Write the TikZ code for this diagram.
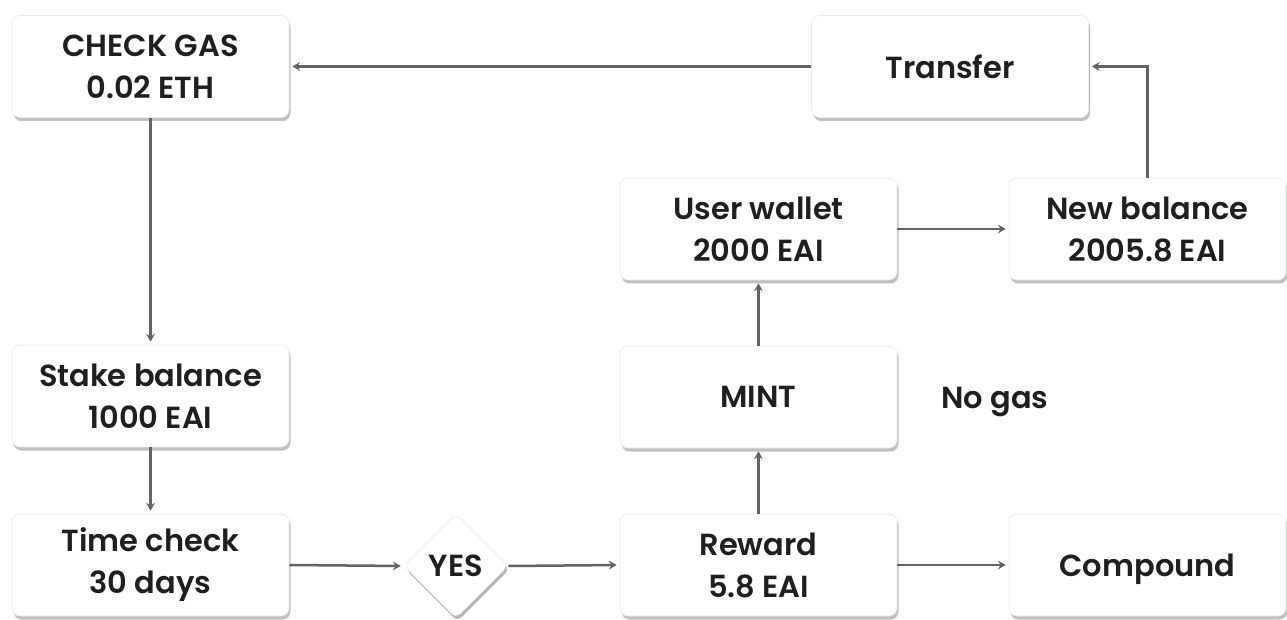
\documentclass[tikz,border=0pt]{standalone}
\usepackage{fontspec}
\setmainfont{Poppins SemiBold}
\usetikzlibrary{arrows.meta,shadows,shapes.geometric}
\definecolor{linegrey}{HTML}{636363}
\definecolor{txt}{HTML}{1F1F1F}
\newcommand{\nodepth}[1]{\raisebox{0pt}[\height][0pt]{#1}}
\tikzset{
  labelfont/.style={font=\fontsize{30.5}{42}\selectfont, text=txt},
  card/.style={draw=black!8, line width=0.6pt, fill=white, rounded corners=8pt,
    minimum width=277pt, minimum height=102pt, inner sep=0pt,
    align=center, labelfont,
    drop shadow={shadow xshift=1.5pt, shadow yshift=-3.5pt, opacity=0.35, fill=black!70}},
  choice/.style={diamond, draw=black!8, line width=0.6pt, fill=white, rounded corners=6pt,
    minimum width=104pt, minimum height=104pt, inner sep=0pt, aspect=1, labelfont,
    drop shadow={shadow xshift=1.5pt, shadow yshift=-3.5pt, opacity=0.4, fill=black!70}},
  flow/.style={draw=linegrey, line width=2.5pt, -{Stealth[length=8pt,width=9pt,inset=3pt]},
    shorten >=3pt}
}
\begin{document}
\begin{tikzpicture}[x=1pt,y=1pt]
\useasboundingbox (0,0) rectangle (1287,619);
\node[card] (gas)     at (150.5,552.5) {CHECK GAS\\0.02 ETH};
\node[card] (transfer) at (950,552.5)  {Transfer};
\node[card] (wallet)  at (758.5,390)   {User wallet\\2000 EAI};
\node[card] (newbal)  at (1147.5,390)  {New balance\\2005.8 EAI};
\node[card] (stake)   at (150.5,223)   {Stake balance\\1000 EAI};
\node[card] (mint)    at (758.5,222)   {MINT};
\node[card] (time)    at (150.5,54)    {Time check\\30 days};
\node[card] (reward)  at (758.5,54)    {Reward\\5.8 EAI};
\node[card] (compound) at (1147.5,54)  {\nodepth{Compound}};
\node[choice] (yes)   at (456,53)      {YES};
\node[labelfont] (nogas) at (995,221) {\nodepth{No gas}};

\draw[flow] (transfer.west) -- (gas.east);
\draw[flow] (gas.south) -- (stake.north);
\draw[flow] (stake.south) -- (time.north);
\draw[flow] (time.east) -- (yes.west);
\draw[flow] (yes.east) -- (reward.west);
\draw[flow] (reward.north) -- (mint.south);
\draw[flow] (mint.north) -- (wallet.south);
\draw[flow] (wallet.east) -- (newbal.west);
\draw[flow] (newbal.north) |- (transfer.east);
\draw[flow] (reward.east) -- (compound.west);
\end{tikzpicture}
\end{document}
